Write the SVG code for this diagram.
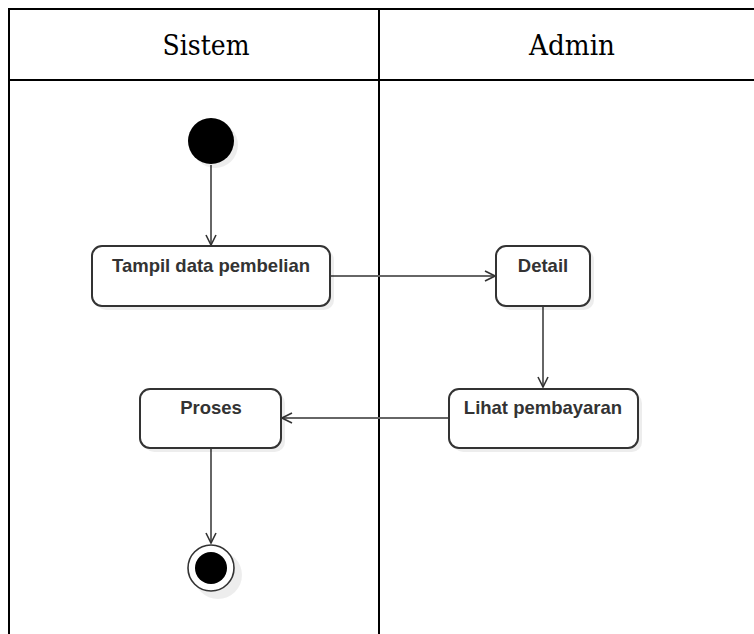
<svg xmlns="http://www.w3.org/2000/svg" width="754" height="634" viewBox="0 0 754 634">
  <style>
    .lane { fill: none; stroke: #000; stroke-width: 2; }
    .head { font-family: "DejaVu Serif", serif; font-size: 27px; fill: #000; text-anchor: middle; }
    .act { fill: #fff; stroke: #333; stroke-width: 2; }
    .shadow { fill: #000; opacity: 0.07; }
    .label { font-family: "Liberation Sans", Arial, sans-serif; font-weight: bold; font-size: 18.5px; fill: #333; text-anchor: middle; }
    .edge { fill: none; stroke: #666; stroke-width: 2; }
  </style>
  <defs>
    <marker id="open" viewBox="0 0 12 12" refX="11" refY="6" markerWidth="12" markerHeight="12" markerUnits="userSpaceOnUse" orient="auto">
      <path d="M1,1 L11,6 L1,11" fill="none" stroke="#333" stroke-width="1.6"/>
    </marker>
  </defs>
  <rect width="754" height="634" fill="#fff"/>

  <!-- swimlanes -->
  <g id="lanes">
    <path class="lane" d="M9,640 V9 H760 M9,80 H760 M379,9 V640"/>
    <text class="head" x="206" y="55" textLength="87" lengthAdjust="spacingAndGlyphs">Sistem</text>
    <text class="head" x="572" y="55" textLength="86" lengthAdjust="spacingAndGlyphs">Admin</text>
  </g>

  <!-- connectors -->
  <g id="connectors">
    <path class="edge" d="M211,165 V245" marker-end="url(#open)"/>
    <path class="edge" d="M330,276 H495" marker-end="url(#open)"/>
    <path class="edge" d="M543,306 V387" marker-end="url(#open)"/>
    <path class="edge" d="M449,418 H282" marker-end="url(#open)"/>
    <path class="edge" d="M211,448 V543" marker-end="url(#open)"/>
  </g>

  <g id="start">
    <circle class="shadow" cx="215" cy="145" r="23"/>
    <circle cx="211" cy="141" r="23" fill="#000"/>
  </g>

  <g id="tampil">
    <rect class="shadow" x="96" y="250" width="238" height="60" rx="10"/>
    <rect class="act" x="92" y="246" width="238" height="60" rx="10"/>
    <text class="label" x="211" y="272">Tampil data pembelian</text>
  </g>

  <g id="detail">
    <rect class="shadow" x="500" y="250" width="94" height="60" rx="10"/>
    <rect class="act" x="496" y="246" width="94" height="60" rx="10"/>
    <text class="label" x="543" y="272">Detail</text>
  </g>

  <g id="lihat">
    <rect class="shadow" x="453" y="393" width="189" height="59" rx="10"/>
    <rect class="act" x="449" y="389" width="189" height="59" rx="10"/>
    <text class="label" x="543" y="414">Lihat pembayaran</text>
  </g>

  <g id="proses">
    <rect class="shadow" x="144" y="393" width="141" height="59" rx="10"/>
    <rect class="act" x="140" y="389" width="141" height="59" rx="10"/>
    <text class="label" x="211" y="414">Proses</text>
  </g>

  <g id="end">
    <circle class="shadow" cx="218" cy="575" r="24"/>
    <circle cx="211" cy="568" r="23" fill="#fff" stroke="#333" stroke-width="1.6"/>
    <circle cx="211" cy="568" r="16" fill="#000"/>
  </g>
</svg>
